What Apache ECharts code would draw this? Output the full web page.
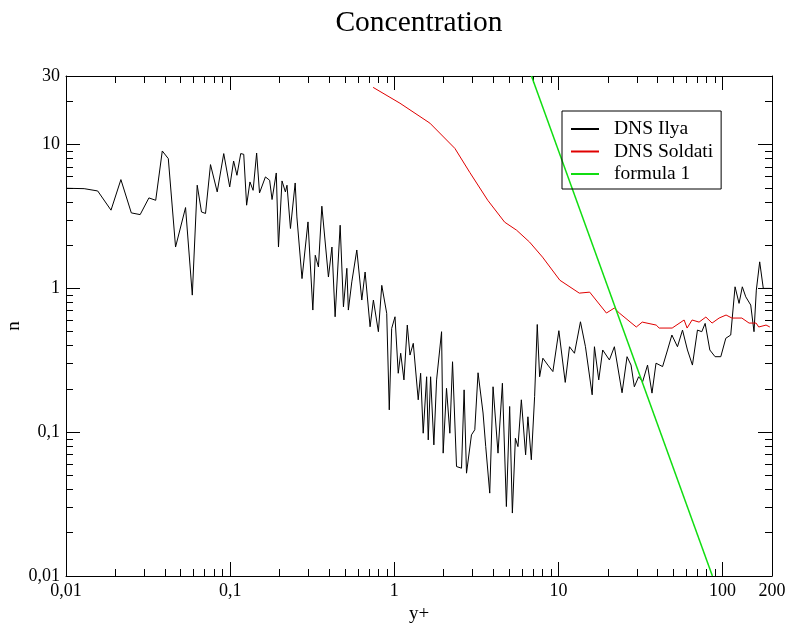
<!DOCTYPE html>
<html><head><meta charset="utf-8">
<script src="https://cdn.jsdelivr.net/npm/echarts@6/dist/echarts.min.js"></script>
<style>html,body{margin:0;padding:0;background:#fff}#c{width:790px;height:623px}</style>
</head><body><div id="c"></div>
<script>
const ilya = [[0.01,4.97],[0.0129,4.94],[0.0156,4.76],[0.0188,3.50],[0.0216,5.71],[0.0250,3.35],[0.0283,3.26],[0.0320,4.26],[0.0352,4.10],[0.0386,9.03],[0.0420,7.99],[0.0465,1.94],[0.0535,3.65],[0.0588,0.898],[0.0630,5.22],[0.0669,3.40],[0.0708,3.32],[0.0759,7.26],[0.0834,4.69],[0.0914,8.66],[0.0994,5.08],[0.105,7.69],[0.110,6.12],[0.116,8.66],[0.121,8.56],[0.126,3.79],[0.132,5.50],[0.138,4.81],[0.145,8.74],[0.151,4.61],[0.164,5.96],[0.174,5.65],[0.180,4.15],[0.191,6.35],[0.197,1.94],[0.207,5.59],[0.217,4.69],[0.222,5.22],[0.233,2.61],[0.249,5.41],[0.255,3.14],[0.274,1.17],[0.298,2.90],[0.319,0.707],[0.330,1.70],[0.345,1.41],[0.362,3.73],[0.397,1.20],[0.417,1.94],[0.436,0.635],[0.468,2.75],[0.490,0.745],[0.514,1.38],[0.525,0.707],[0.551,1.11],[0.591,1.85],[0.634,0.830],[0.664,1.30],[0.712,0.541],[0.746,0.830],[0.800,0.500],[0.839,1.05],[0.899,0.671],[0.932,0.143],[0.964,0.527],[1.01,0.635],[1.057,0.257],[1.094,0.354],[1.145,0.231],[1.20,0.556],[1.246,0.344],[1.305,0.415],[1.399,0.168],[1.447,0.257],[1.50,0.0984],[1.574,0.243],[1.61,0.0884],[1.664,0.243],[1.742,0.0816],[1.81,0.231],[1.941,0.500],[1.985,0.0715],[2.08,0.202],[2.18,0.0984],[2.264,0.309],[2.394,0.0577],[2.568,0.0562],[2.663,0.197],[2.754,0.0519],[2.952,0.0958],[3.093,0.104],[3.238,0.259],[3.473,0.136],[3.606,0.0794],[3.815,0.0377],[3.996,0.207],[4.284,0.0715],[4.556,0.219],[4.818,0.0304],[5.045,0.151],[5.24,0.0274],[5.466,0.0908],[5.668,0.0794],[5.943,0.168],[6.31,0.0696],[6.517,0.128],[6.835,0.0643],[7.16,0.177],[7.43,0.561],[7.68,0.243],[8.04,0.327],[8.62,0.293],[9.25,0.264],[10.06,0.508],[11.0,0.222],[11.68,0.393],[12.52,0.354],[13.62,0.586],[14.61,0.393],[16.05,0.182],[16.57,0.393],[17.6,0.231],[18.61,0.373],[20.44,0.318],[21.92,0.393],[24.41,0.188],[26.18,0.335],[27.69,0.293],[29.0,0.207],[30.8,0.243],[32.6,0.225],[34.9,0.293],[37.15,0.187],[39.3,0.302],[43.1,0.286],[46.2,0.373],[49.1,0.474],[53.1,0.393],[57.0,0.513],[61.1,0.373],[65.5,0.293],[70.3,0.513],[74.7,0.500],[78.3,0.571],[83.6,0.373],[90.0,0.335],[97.5,0.335],[104.6,0.450],[112.1,0.474],[119.1,1.026],[126,0.787],[131.9,1.026],[138.4,0.874],[148.4,0.766],[155.4,0.500],[160.5,0.973],[168.3,1.53],[177,1.0],[196,1.0]];
const soldati = [[0.743,25.0],[1.083,19.4],[1.648,14.1],[2.34,9.41],[2.88,6.42],[3.71,4.10],[4.70,2.89],[5.56,2.54],[6.67,2.10],[8.0,1.65],[10.2,1.14],[13.4,0.927],[15.5,0.942],[19.6,0.674],[21.9,0.730],[23.5,0.674],[29.8,0.539],[32.4,0.583],[39.4,0.556],[41.1,0.530],[49.3,0.530],[58.3,0.603],[60.8,0.530],[65.2,0.603],[71.9,0.583],[79.1,0.632],[86.3,0.574],[95.2,0.622],[105,0.653],[114,0.622],[131,0.622],[145,0.574],[160,0.574],[166,0.539],[184,0.556],[194,0.539]];
const formula1 = [[6.85,30],[86.7,0.01]];

const xMajor = [0.01,0.1,1,10,100];
const xLabels = [0.01,0.1,1,10,100,200];
const xMinor = [0.02,0.03,0.04,0.05,0.06,0.07,0.08,0.09,0.2,0.3,0.4,0.5,0.6,0.7,0.8,0.9,2,3,4,5,6,7,8,9,20,30,40,50,60,70,80,90];
const yMajor = [0.01,0.1,1,10];
const yLabels = [0.01,0.1,1,10,30];
const yMinor = [0.02,0.03,0.04,0.05,0.06,0.07,0.08,0.09,0.2,0.3,0.4,0.5,0.6,0.7,0.8,0.9,2,3,4,5,6,7,8,9,20];

const FONT = 'Liberation Serif';
const fmt = v => String(+(+v).toPrecision(6)).replace('.', ',');
const gridRect = {left: 66, right: 18, top: 76, bottom: 47, containLabel: false, outerBoundsMode: 'none'};

function axis(dim, gridIndex, position, ticks, len, labels, extra) {
  const a = {
    type: 'log', logBase: 10, gridIndex, position,
    min: 0.01, max: dim === 'x' ? 200 : 30,
    axisLine: {show: gridIndex === 0, lineStyle: {color: '#000', width: 1}},
    axisTick: {show: true, inside: true, length: len, customValues: ticks, lineStyle: {color: '#000', width: 1}},
    axisLabel: labels ? {show: true, customValues: labels, margin: 6, fontFamily: FONT, fontSize: 18, color: '#000', formatter: fmt} : {show: false},
    splitLine: {show: false}, minorTick: {show: false}, minorSplitLine: {show: false},
    axisPointer: {show: false}
  };
  return Object.assign(a, extra || {});
}

const chart = echarts.init(document.getElementById('c'), null, {renderer: 'canvas'});
chart.setOption({
  animation: false,
  backgroundColor: '#fff',
  title: {text: 'Concentration', left: 419, top: 8, padding: 0, textAlign: 'center',
    textStyle: {fontFamily: FONT, fontSize: 29.5, fontWeight: 'normal', color: '#000'}},
  legend: {
    orient: 'vertical', left: 562, top: 111, padding: [8, 8, 5, 8],
    borderColor: '#000', borderWidth: 1, itemWidth: 28, itemHeight: 14, itemGap: 2.5,
    itemStyle: {opacity: 0},
    textStyle: {fontFamily: FONT, fontSize: 19.5, color: '#000', lineHeight: 19, padding: [0, 0, 0, 10]},
    data: ['DNS Ilya', 'DNS Soldati', 'formula 1']
  },
  grid: [Object.assign({}, gridRect), Object.assign({}, gridRect)],
  xAxis: [
    axis('x', 0, 'bottom', xMajor, 14, xLabels, {name: 'y+', nameLocation: 'middle', nameGap: 29, nameMoveOverlap: false,
      nameTextStyle: {fontFamily: FONT, fontSize: 19, color: '#000'}}),
    axis('x', 0, 'top', xMajor, 14, null),
    axis('x', 1, 'bottom', xMinor, 7, null),
    axis('x', 1, 'top', xMinor, 7, null)
  ],
  yAxis: [
    axis('y', 0, 'left', yMajor, 14, yLabels, {name: 'n', nameLocation: 'middle', nameGap: 42, nameMoveOverlap: false,
      nameTextStyle: {fontFamily: FONT, fontSize: 19, color: '#000'}}),
    axis('y', 0, 'right', yMajor, 14, null),
    axis('y', 1, 'left', yMinor, 7, null),
    axis('y', 1, 'right', yMinor, 7, null)
  ],
  series: [
    {name: 'DNS Ilya', type: 'line', xAxisIndex: 0, yAxisIndex: 0, data: ilya, symbol: 'none',
      lineStyle: {color: '#000', width: 1}, itemStyle: {color: '#000'}, clip: true},
    {name: 'DNS Soldati', type: 'line', xAxisIndex: 0, yAxisIndex: 0, data: soldati, symbol: 'none',
      lineStyle: {color: '#e00000', width: 1}, itemStyle: {color: '#e00000'}, clip: true},
    {name: 'formula 1', type: 'line', xAxisIndex: 0, yAxisIndex: 0, data: formula1, symbol: 'none',
      lineStyle: {color: '#11dd11', width: 1.5}, itemStyle: {color: '#11dd11'}, clip: true}
  ]
});
</script></body></html>
